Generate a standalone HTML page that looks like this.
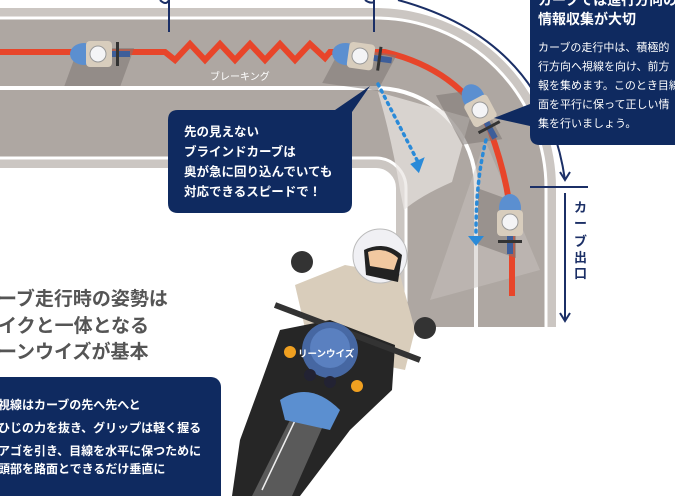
<!DOCTYPE html>
<html><head><meta charset="utf-8">
<style>
html,body{margin:0;padding:0;background:#fff;}
body{width:675px;height:496px;overflow:hidden;position:relative;font-family:"Liberation Sans","Noto Sans CJK JP",sans-serif;}
svg{position:absolute;left:0;top:0;}
</style></head><body>
<svg width="675" height="496" viewBox="0 0 675 496" xmlns="http://www.w3.org/2000/svg">
<defs>
<g id="bike">
  <rect x="-22" y="-6" width="56" height="38" fill="#7d7773" opacity="0.55" transform="skewX(-20)"/>
  <ellipse cx="-14" cy="0" rx="14" ry="11" fill="#5b8fd0"/>
  <rect x="-12" y="-13" width="26" height="26" rx="4" fill="#d8cdbd"/>
  <circle cx="0" cy="0" r="8" fill="#f4f4f6" stroke="#999" stroke-width="1"/>
  <rect x="14" y="-3" width="18" height="6" fill="#3d5e9a"/>
  <rect x="18" y="-12" width="3" height="24" fill="#333"/>
</g>
</defs>
<!-- road -->
<path d="M -10 88 H 376 A 100 100 0 0 1 476 188 V 327" fill="none" stroke="#cbc6c2" stroke-width="160"/>
<path d="M -10 88 H 376 A 100 100 0 0 1 476 188 V 327" fill="none" stroke="#aea7a2" stroke-width="138"/>
<path d="M -10 88 H 376 A 100 100 0 0 1 476 188 V 327" fill="none" stroke="#fff" stroke-width="4" stroke-dasharray="0"/>
<path d="M -10 18 H 376 A 170 170 0 0 1 546 188 V 327" fill="none" stroke="#fff" stroke-width="3"/>
<path d="M -10 158 H 376 A 30 30 0 0 1 406 188 V 327" fill="none" stroke="#fff" stroke-width="3"/>
<!-- light view cones -->
<path d="M 378 92 L 470 118 L 452 182 Q 420 196 404 210 L 400 190 Q 392 140 378 92 Z" fill="#e9e6e3" opacity="0.7"/>
<path d="M 485 140 L 540 270 L 430 300 Z" fill="#c8c2bd" opacity="0.5"/>
<!-- red path -->
<path d="M 0 52 H 165 L 175 60 L 190 44 L 205 60 L 220 44 L 235 60 L 250 44 L 265 60 L 280 44 L 295 60 L 310 44 L 325 58 L 330 52 H 385 Q 460 70 490 130 Q 512 190 512 240 V 296" fill="none" stroke="#e8452a" stroke-width="6" stroke-linejoin="miter"/>
<!-- bikes -->
<use href="#bike" transform="translate(98,54)"/>
<use href="#bike" transform="translate(360,56) rotate(8)"/>
<use href="#bike" transform="translate(480,110) rotate(62)"/>
<use href="#bike" transform="translate(510,222) rotate(90)"/>
<!-- blue dotted arrows -->
<path d="M 378 84 L 418 162" stroke="#2a8ad8" stroke-width="3.5" stroke-dasharray="2 5" stroke-linecap="round" fill="none"/>
<path d="M 416 172 L 428 160 L 412 160 Z" fill="#2a8ad8" transform="rotate(-25 420 166)"/>
<path d="M 486 140 Q 476 180 476 232" stroke="#2a8ad8" stroke-width="3.5" stroke-dasharray="2 5" stroke-linecap="round" fill="none"/>
<path d="M 468 236 L 484 236 L 476 246 Z" fill="#2a8ad8"/>
<text x="210" y="80" font-size="10" fill="#fff">ブレーキング</text>
<!-- navy dimension lines -->
<g stroke="#1b2f66" stroke-width="2" fill="none">
<path d="M 169 0 V 32"/><path d="M 374 0 V 32"/>
<path d="M 160 0 Q 166 6 169 0"/><path d="M 365 0 Q 370 4 374 2"/>
<path d="M 398 0 Q 545 40 565 180"/>
<path d="M 560 172 L 565 180 L 570 172"/>
<path d="M 530 187 H 588"/>
<path d="M 565 193 V 321"/>
<path d="M 560 313 L 565 321 L 570 313"/>
</g>
<text font-size="13" fill="#1b2f66" font-weight="bold"><tspan x="574" y="212">カ</tspan><tspan x="574" y="228">ー</tspan></text>
<text x="574" y="246" font-size="13" fill="#1b2f66" font-weight="bold">ブ</text>
<text x="574" y="262" font-size="13" fill="#1b2f66" font-weight="bold">出</text>
<text x="574" y="278" font-size="13" fill="#1b2f66" font-weight="bold">口</text>
<!-- left bubble -->
<path d="M 178 110 H 335 L 370 86 L 352 112 Q 352 110 352 120 V 203 Q 352 213 342 213 H 178 Q 168 213 168 203 V 120 Q 168 110 178 110 Z" fill="#0f2a60"/>
<g font-size="12.5" font-weight="bold" fill="#fff">
<text x="184" y="136">先の見えない</text>
<text x="184" y="156">ブラインドカーブは</text>
<text x="184" y="176">奥が急に回り込んでいても</text>
<text x="184" y="196">対応できるスピードで！</text>
</g>
<!-- right bubble -->
<path d="M 530 -10 H 690 V 145 H 540 Q 530 145 530 135 V 126 L 494 118 L 530 104 Z" fill="#0f2a60"/>
<g fill="#fff">
<text x="538" y="5" font-size="14" font-weight="bold">カーブでは進行方向の</text>
<text x="538" y="24" font-size="14" font-weight="bold">情報収集が大切</text>
<text x="538" y="51" font-size="11">カーブの走行中は、積極的</text>
<text x="538" y="70" font-size="11">行方向へ視線を向け、前方</text>
<text x="538" y="89" font-size="11">報を集めます。このとき目線</text>
<text x="538" y="108" font-size="11">面を平行に保って正しい情</text>
<text x="538" y="127" font-size="11">集を行いましょう。</text>
</g>
<!-- heading -->
<g font-size="19" font-weight="bold" fill="#555">
<text x="-2" y="305">ーブ走行時の姿勢は</text>
<text x="-2" y="332">イクと一体となる</text>
<text x="-2" y="358">ーンウイズが基本</text>
</g>
<!-- bottom navy box -->
<rect x="-12" y="377" width="233" height="130" rx="10" fill="#0f2a60"/>
<g font-size="12" fill="#fff" font-weight="bold">
<text x="-2" y="409">視線はカーブの先へ先へと</text>
<text x="-2" y="432">ひじの力を抜き、グリップは軽く握る</text>
<text x="-2" y="455">アゴを引き、目線を水平に保つために</text>
<text x="-2" y="473">頭部を路面とできるだけ垂直に</text>
</g>
<!-- rider -->
<path d="M 295 285 L 345 265 L 400 275 L 415 330 L 405 370 L 310 350 Z" fill="#d9cdbb"/>
<path d="M 280 330 L 330 320 L 395 345 L 392 390 L 350 430 L 300 496 L 232 496 L 240 440 L 262 380 Z" fill="#262626"/>
<path d="M 275 305 L 420 360" stroke="#333" stroke-width="6"/>
<path d="M 252 496 L 300 400 L 330 410 L 292 496 Z" fill="#5a5a5a"/>
<path d="M 262 490 L 300 410" stroke="#eee" stroke-width="1.5"/>
<path d="M 280 400 Q 310 380 340 410 L 330 430 L 285 420 Z" fill="#5b8fd0"/>
<circle cx="330" cy="350" r="28" fill="#4a6fb0" opacity="0.9"/>
<circle cx="330" cy="348" r="20" fill="#5a80c0"/>
<circle cx="310" cy="375" r="6" fill="#223" /><circle cx="330" cy="382" r="6" fill="#223"/>
<circle cx="290" cy="352" r="6" fill="#f0a020"/><circle cx="357" cy="386" r="6" fill="#f0a020"/>
<circle cx="302" cy="262" r="11" fill="#333"/>
<circle cx="425" cy="328" r="11" fill="#333"/>
<circle cx="380" cy="256" r="27" fill="#f0f0f4" stroke="#bbb" stroke-width="1"/>
<path d="M 364 250 Q 385 240 402 255 L 398 282 L 366 275 Z" fill="#222"/>
<path d="M 368 252 Q 385 246 398 258 L 394 270 L 370 266 Z" fill="#f1c8a0"/>
<text x="298" y="357" font-size="9.5" font-weight="bold" fill="#fff">リーンウイズ</text>
</svg>
</body></html>
